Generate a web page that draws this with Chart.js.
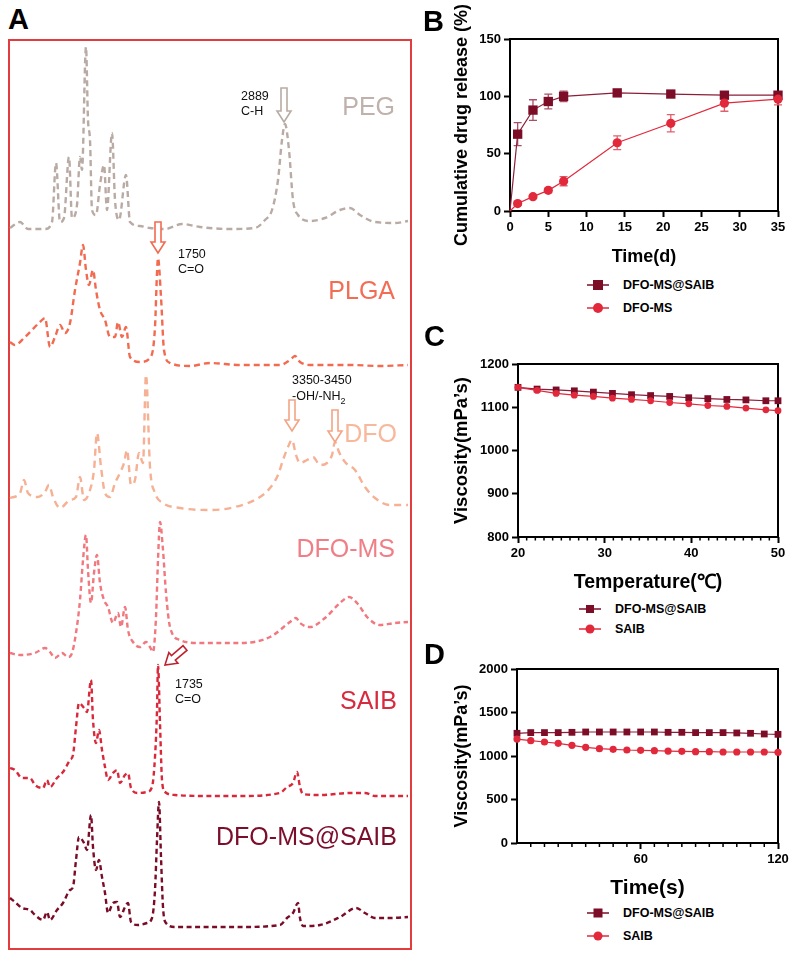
<!DOCTYPE html>
<html>
<head>
<meta charset="utf-8">
<script src="https://cdn.jsdelivr.net/npm/chart.js@4.4.0/dist/chart.umd.min.js"></script>
<style>
body{margin:0;background:#fff;font-family:Arial,"Liberation Sans",sans-serif;}
#page{position:relative;width:794px;height:956px;overflow:hidden;background:#fff;}
canvas{position:absolute;}
.lbl{position:absolute;white-space:nowrap;line-height:1;}
.panel{font-weight:bold;font-size:29px;color:#000;}
.name{font-size:25px;text-align:right;}
.note{position:absolute;white-space:nowrap;font-size:12.5px;line-height:15px;color:#111;}
.leg{position:absolute;height:16px;display:flex;align-items:center;font-weight:bold;font-size:12.5px;white-space:nowrap;}
.leg svg{margin-right:14px;}
#boxA{position:absolute;left:8px;top:39px;width:404px;height:911px;box-sizing:border-box;border:2px solid #e23c3c;}
</style>
</head>
<body>
<div id="page">
  <div id="boxA"></div>
  <canvas id="chartA" width="402" height="909" style="left:9px;top:40px;width:402px;height:909px"></canvas>
  <canvas id="chartB" width="372" height="270" style="left:420px;top:0px;width:372px;height:270px"></canvas>
  <canvas id="chartC" width="372" height="250" style="left:420px;top:350px;width:372px;height:250px"></canvas>
  <canvas id="chartD" width="372" height="250" style="left:420px;top:655px;width:372px;height:250px"></canvas>

  <div class="lbl panel" style="left:8px;top:5px">A</div>
  <div class="lbl panel" style="left:423px;top:7px">B</div>
  <div class="lbl panel" style="left:424px;top:322px">C</div>
  <div class="lbl panel" style="left:424px;top:640px">D</div>

  <div class="lbl name" style="right:399px;top:94px;color:#bfb1ab">PEG</div>
  <div class="lbl name" style="right:399px;top:278px;color:#f36d55">PLGA</div>
  <div class="lbl name" style="right:397px;top:421px;color:#f8b89c">DFO</div>
  <div class="lbl name" style="right:399px;top:536px;color:#f07e86">DFO-MS</div>
  <div class="lbl name" style="right:397px;top:688px;color:#d72a3f">SAIB</div>
  <div class="lbl name" style="right:397px;top:824px;color:#7c0d2b">DFO-MS@SAIB</div>

  <div class="note" style="left:241px;top:89px">2889<br>C-H</div>
  <div class="note" style="left:178px;top:247px">1750<br>C=O</div>
  <div class="note" style="left:292px;top:372px;line-height:16px">3350-3450<br>-OH/-NH<sub style="font-size:9px;line-height:0">2</sub></div>
  <div class="note" style="left:175px;top:677px">1735<br>C=O</div>

  <div class="leg" style="left:587px;top:277px"><svg width="22" height="12"><line x1="0" y1="6" x2="22" y2="6" stroke="#7d0c27" stroke-width="1.5"/><rect x="6" y="1" width="10" height="10" fill="#7d0c27"/></svg>DFO-MS@SAIB</div>
  <div class="leg" style="left:587px;top:300px"><svg width="22" height="12"><line x1="0" y1="6" x2="22" y2="6" stroke="#e2283b" stroke-width="1.5"/><circle cx="11" cy="6" r="5" fill="#e2283b"/></svg>DFO-MS</div>

  <div class="leg" style="left:579px;top:601px"><svg width="22" height="12"><line x1="0" y1="6" x2="22" y2="6" stroke="#7d0c27" stroke-width="1.5"/><rect x="7" y="2" width="8" height="8" fill="#7d0c27"/></svg>DFO-MS@SAIB</div>
  <div class="leg" style="left:579px;top:621px"><svg width="22" height="12"><line x1="0" y1="6" x2="22" y2="6" stroke="#e2283b" stroke-width="1.5"/><circle cx="11" cy="6" r="4.5" fill="#e2283b"/></svg>SAIB</div>

  <div class="leg" style="left:587px;top:905px"><svg width="22" height="12"><line x1="0" y1="6" x2="22" y2="6" stroke="#7d0c27" stroke-width="1.5"/><rect x="6.5" y="1.5" width="9" height="9" fill="#7d0c27"/></svg>DFO-MS@SAIB</div>
  <div class="leg" style="left:587px;top:928px"><svg width="22" height="12"><line x1="0" y1="6" x2="22" y2="6" stroke="#e2283b" stroke-width="1.5"/><circle cx="11" cy="6" r="4.5" fill="#e2283b"/></svg>SAIB</div>
</div>

<script>
// ---- A: FTIR-like traces (position across the panel, intensity above each baseline) ----
const pegPos = [10,20,28,45,52,56,60,64,69,72,77,80,82,86,88,90,92,96,100,104,107,112,115,119,126,130,140,150,165,182,200,230,255,265,272,278,282,285,289,293,298,310,325,340,350,360,375,395,408];
const pegInt = [1,7,0,0,7,66,7,11,72,11,24,72,59,182,109,89,19,14,44,64,19,96,29,9,54,7,3,1,0,5,2,0,1,9,19,49,89,105,79,29,14,8,11,19,21,14,7,6,8];

const plgaPos = [10,15,25,40,45,50,55,60,65,70,75,80,83,86,89,93,96,100,105,110,115,118,122,126,130,140,150,155,157,158,161,164,170,190,210,240,280,290,295,300,310,350,380,408];
const plgaInt = [24,21,29,44,48,19,29,41,33,43,76,103,121,96,81,96,76,56,46,29,29,44,29,39,9,4,8,39,93,108,69,16,3,0,3,1,1,6,10,4,1,1,0,1];

const dfoPos = [10,20,24,28,38,45,49,53,60,70,76,80,84,90,94,97,101,105,110,115,120,124,127,131,135,139,143,146,150,155,163,180,210,235,260,270,278,283,288,292,296,300,307,313,320,327,332,335,339,345,355,365,375,390,408];
const dfoInt = [12,17,30,17,13,18,25,13,2,10,13,33,10,20,40,77,43,17,13,27,37,47,60,25,30,57,47,135,43,17,7,2,0,3,13,22,35,50,63,70,55,47,50,53,45,47,55,68,58,48,40,23,12,5,5];

const dfomsPos = [10,20,35,45,50,55,62,68,72,76,80,83,86,88,91,94,97,100,104,108,113,118,121,125,128,133,140,146,150,153,156,158,160,163,166,170,180,200,240,270,290,296,300,310,325,340,349,357,368,380,395,408];
const dfomsInt = [5,3,5,10,6,0,5,1,5,25,58,98,123,88,55,85,103,75,58,51,35,45,31,51,28,16,11,16,11,6,41,98,136,108,65,31,18,15,15,21,36,40,35,31,40,55,61,55,40,33,35,36];

const saibPos = [10,15,22,30,35,43,47,50,57,63,70,73,76,79,84,87,91,93,96,99,102,105,108,113,117,120,125,128,131,138,147,152,155,157,158,160,162,165,175,210,240,280,287,293,297,300,303,320,350,365,375,408];
const saibInt = [28,26,18,18,11,8,16,9,18,24,36,41,69,93,88,84,116,76,53,66,46,29,16,23,26,13,21,23,8,3,4,9,39,86,131,73,16,4,1,0,0,3,9,13,24,9,2,1,3,3,0,0];

const mixPos = [10,15,22,30,35,43,47,50,57,63,70,73,76,79,84,87,91,93,96,99,102,105,108,113,117,120,125,128,131,138,147,152,155,157,159,161,163,166,175,210,240,280,287,293,298,300,303,320,340,356,365,375,390,408];
const mixInt = [29,25,19,17,12,7,15,7,17,24,37,40,67,90,84,77,112,80,57,67,50,34,14,24,25,10,20,24,5,2,4,9,37,87,125,70,20,4,0,0,0,2,9,14,24,9,1,2,10,19,14,9,9,10];

const traceNames = ['PEG','PLGA','DFO','DFO-MS','SAIB','DFO-MS@SAIB'];
const traceOffsets = [720,583,439,291,153,22];
const traceColors = ['#b9aba4','#f26b50','#f6b093','#f0787e','#d8283a','#7b0c28'];
const traceDash = [[6,4],[6,4],[7,5],[5,3.5],[5,3.5],[5,3.5]];

// ---- B: cumulative release ----
const releaseDays = [0,1,3,5,7,14,21,28,35];
const releaseMix = [0,67,88,95.5,100,103,102,101,101];
const releaseMixErr = [0,10,9,6.5,4.5,1,1,1.5,2];
const releaseMs = [0,6.5,12.5,18,26,59.5,76.5,94,97.5];
const releaseMsErr = [0,1.5,1.5,2,4,6,7.5,7,5];

// ---- C: viscosity vs temperature ----
const tempC = [20,22.2,24.4,26.5,28.7,30.9,33.1,35.3,37.5,39.7,41.9,44.1,46.3,48.6,50];
const tempMix = [1146,1142,1140,1138,1135,1132,1129,1127,1125,1122,1120,1118,1117,1115,1115];
const tempSaib = [1146,1139,1132,1128,1125,1121,1118,1115,1111,1108,1104,1102,1098,1094,1092];

// ---- D: viscosity vs time ----
const timeS = [6,12,18,24,30,36,42,48,54,60,66,72,78,84,90,96,102,108,114,120];
const timeMix = [1261,1269,1269,1269,1272,1276,1276,1276,1276,1276,1276,1272,1272,1269,1269,1269,1265,1261,1253,1249];
const timeSaib = [1195,1176,1161,1146,1123,1100,1084,1077,1069,1065,1061,1057,1054,1050,1050,1046,1046,1046,1046,1042];

// hollow arrows in panel A (tail -> tip, chart units)
const arrowsA = [
  {from:[284,861], to:[284,827], color:'#b9aba4'},
  {from:[158,727], to:[158,696], color:'#f26b50'},
  {from:[292,549], to:[292,518], color:'#f4a485'},
  {from:[335,539], to:[335,507], color:'#f4a485'},
  {from:[185,301], to:[165,284], color:'#c0202e'}
];

Chart.defaults.font.family = 'Arial, "Liberation Sans", sans-serif';
Chart.defaults.color = '#000';

const pts = (xs, ys) => xs.map((x, i) => ({x: x, y: ys[i]}));

const arrowPlugin = {
  id: 'arrows',
  afterDatasetsDraw(chart) {
    const ctx = chart.ctx, sx = chart.scales.x, sy = chart.scales.y;
    arrowsA.forEach(a => {
      const x0 = sx.getPixelForValue(a.from[0]), y0 = sy.getPixelForValue(a.from[1]);
      const x1 = sx.getPixelForValue(a.to[0]), y1 = sy.getPixelForValue(a.to[1]);
      const len = Math.hypot(x1 - x0, y1 - y0), ux = (x1 - x0) / len, uy = (y1 - y0) / len;
      const nx = -uy, ny = ux, head = 11, sw = 3, hw = 7;
      const bx = x1 - ux * head, by = y1 - uy * head;
      ctx.save();
      ctx.beginPath();
      ctx.moveTo(x0 + nx * sw, y0 + ny * sw);
      ctx.lineTo(bx + nx * sw, by + ny * sw);
      ctx.lineTo(bx + nx * hw, by + ny * hw);
      ctx.lineTo(x1, y1);
      ctx.lineTo(bx - nx * hw, by - ny * hw);
      ctx.lineTo(bx - nx * sw, by - ny * sw);
      ctx.lineTo(x0 - nx * sw, y0 - ny * sw);
      ctx.closePath();
      ctx.fillStyle = '#fff';
      ctx.fill();
      ctx.lineWidth = 1.6;
      ctx.strokeStyle = a.color;
      ctx.stroke();
      ctx.restore();
    });
  }
};

new Chart(document.getElementById('chartA'), {
  type: 'line',
  data: {
    datasets: traceNames.map((name, k) => {
      const pos = [pegPos, plgaPos, dfoPos, dfomsPos, saibPos, mixPos][k];
      const inten = [pegInt, plgaInt, dfoInt, dfomsInt, saibInt, mixInt][k];
      return {
        label: name,
        data: pos.map((x, i) => ({x: x, y: traceOffsets[k] + inten[i]})),
        borderColor: traceColors[k],
        borderWidth: 2.4,
        borderDash: traceDash[k],
        pointRadius: 0,
        cubicInterpolationMode: 'monotone',
        clip: false
      };
    })
  },
  options: {
    responsive: false, animation: false, devicePixelRatio: 1,
    layout: {padding: 0},
    plugins: {legend: {display: false}, tooltip: {enabled: false}},
    scales: {
      x: {type: 'linear', min: 9, max: 411, display: false},
      y: {min: 0, max: 909, display: false}
    }
  },
  plugins: [arrowPlugin]
});

const framePlugin = {
  id: 'frame',
  beforeDatasetsDraw(chart) {
    const a = chart.chartArea, ctx = chart.ctx;
    ctx.save();
    ctx.strokeStyle = '#000';
    ctx.lineWidth = 2;
    ctx.strokeRect(a.left, a.top, a.right - a.left, a.bottom - a.top);
    ctx.restore();
  }
};

const errorBarPlugin = {
  id: 'errorBars',
  beforeDatasetsDraw(chart) {
    const ctx = chart.ctx, sx = chart.scales.x, sy = chart.scales.y;
    chart.data.datasets.forEach(ds => {
      if (!ds.errors) return;
      ctx.save();
      ctx.strokeStyle = ds.errorColor;
      ctx.lineWidth = 1.3;
      ds.data.forEach((p, i) => {
        const e = ds.errors[i];
        if (!e) return;
        const x = sx.getPixelForValue(p.x);
        const yt = sy.getPixelForValue(p.y + e), yb = sy.getPixelForValue(p.y - e);
        ctx.beginPath();
        ctx.moveTo(x, yt); ctx.lineTo(x, yb);
        ctx.moveTo(x - 4, yt); ctx.lineTo(x + 4, yt);
        ctx.moveTo(x - 4, yb); ctx.lineTo(x + 4, yb);
        ctx.stroke();
      });
      ctx.restore();
    });
  }
};

const minorTickPlugin = {
  id: 'minorTicks',
  beforeDatasetsDraw(chart, args, opts) {
    if (!opts || !opts.values) return;
    const ctx = chart.ctx, sx = chart.scales.x, b = chart.chartArea.bottom;
    ctx.save();
    ctx.strokeStyle = '#000';
    ctx.lineWidth = 1.5;
    opts.values.forEach(v => {
      const x = sx.getPixelForValue(v);
      ctx.beginPath(); ctx.moveTo(x, b); ctx.lineTo(x, b + opts.length); ctx.stroke();
    });
    ctx.restore();
  }
};

function axis(o) {
  return {
    type: 'linear', min: o.min, max: o.max,
    afterFit: s => { if (o.horizontal) s.height = o.size; else s.width = o.size; },
    afterBuildTicks: o.ticks ? s => { s.ticks = o.ticks.map(v => ({value: v})); } : undefined,
    ticks: {stepSize: o.step, font: {size: 13, weight: 'bold'}, color: '#000', padding: 3, maxRotation: 0, autoSkip: false,
            callback: v => String(v)},
    grid: {display: true, drawOnChartArea: false, drawTicks: true, tickLength: 6, tickColor: '#000', tickWidth: 2},
    border: {display: false},
    title: {display: true, text: o.title, color: '#000', font: {size: o.tsize, weight: 'bold'},
            padding: o.horizontal ? {top: 0, bottom: o.tpad} : {top: o.tpad, bottom: 0}}
  };
}

function baseOptions(pad, x, y, minor) {
  return {
    responsive: false, animation: false, devicePixelRatio: 1,
    layout: {padding: {top: pad.top, right: pad.right, left: 0, bottom: 0}},
    plugins: {legend: {display: false}, tooltip: {enabled: false}, minorTicks: minor || {}},
    scales: {x: axis(Object.assign({horizontal: true}, x)), y: axis(y)}
  };
}

const mixStyle = {borderColor: '#8a1f3a', backgroundColor: '#7d0c27', pointBackgroundColor: '#7d0c27', pointBorderWidth: 0, pointStyle: 'rect', borderWidth: 1.2, clip: false};
const saibStyle = {borderColor: '#e2283b', backgroundColor: '#e2283b', pointBackgroundColor: '#e2283b', pointBorderWidth: 0, pointStyle: 'circle', borderWidth: 1.2, clip: false};

new Chart(document.getElementById('chartB'), {
  type: 'line',
  data: {datasets: [
    Object.assign({label: 'DFO-MS', data: pts(releaseDays, releaseMs), errors: releaseMsErr, errorColor: '#e0606c',
      pointRadius: releaseDays.map(d => d === 0 ? 0 : 4.6)}, saibStyle),
    Object.assign({label: 'DFO-MS@SAIB', data: pts(releaseDays, releaseMix), errors: releaseMixErr, errorColor: '#a8506a',
      pointRadius: releaseDays.map(d => d === 0 ? 0 : 6.6)}, mixStyle)
  ]},
  options: baseOptions({top: 39, right: 14},
    {min: 0, max: 35, step: 5, size: 59, title: 'Time(d)', tsize: 18, tpad: 2},
    {min: 0, max: 150, step: 50, size: 90, title: 'Cumulative drug release (%)', tsize: 18, tpad: 31}),
  plugins: [framePlugin, errorBarPlugin]
});

const minorC = [];
for (let t = 21; t < 50; t++) if (t % 10) minorC.push(t);
new Chart(document.getElementById('chartC'), {
  type: 'line',
  data: {datasets: [
    Object.assign({label: 'SAIB', data: pts(tempC, tempSaib), pointRadius: 3.4}, saibStyle),
    Object.assign({label: 'DFO-MS@SAIB', data: pts(tempC, tempMix), pointRadius: 4.8}, mixStyle)
  ]},
  options: baseOptions({top: 14, right: 14},
    {min: 20, max: 50, step: 10, size: 63, title: 'Temperature(℃)', tsize: 19.5, tpad: 6},
    {min: 800, max: 1200, step: 100, size: 98, title: 'Viscosity(mPa’s)', tsize: 18.5, tpad: 31},
    {values: minorC, length: 3.5}),
  plugins: [framePlugin, minorTickPlugin]
});

new Chart(document.getElementById('chartD'), {
  type: 'line',
  data: {datasets: [
    Object.assign({label: 'SAIB', data: pts(timeS, timeSaib), pointRadius: 3.6}, saibStyle),
    Object.assign({label: 'DFO-MS@SAIB', data: pts(timeS, timeMix), pointRadius: 4.8}, mixStyle)
  ]},
  options: baseOptions({top: 14, right: 14},
    {min: 6, max: 120, ticks: [60, 120], size: 62, title: 'Time(s)', tsize: 21, tpad: 4},
    {min: 0, max: 2000, step: 500, size: 97, title: 'Viscosity(mPa’s)', tsize: 18, tpad: 31},
    {values: timeS.filter(t => t !== 60 && t !== 120 && t !== 6), length: 4}),
  plugins: [framePlugin, minorTickPlugin]
});
</script>
</body>
</html>
